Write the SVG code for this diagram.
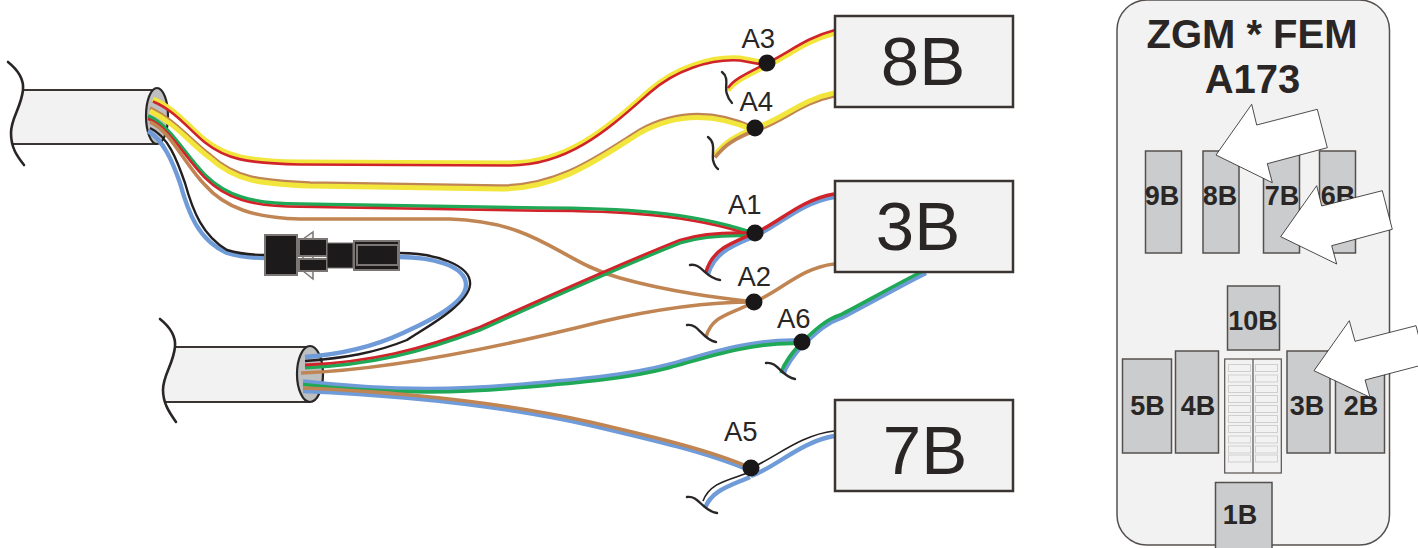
<svg xmlns="http://www.w3.org/2000/svg" width="1418" height="548" viewBox="0 0 1418 548">
<style>
text{font-family:"Liberation Sans",Arial,sans-serif;fill:#2a2625}
.w{fill:none;stroke-linecap:butt;stroke-linejoin:round}
.y{stroke:#f2e63d;stroke-width:5}
.r{stroke:#d1232a;stroke-width:2.6}
.rr{stroke:#d1232a;stroke-width:3.4}
.br{stroke:#c08552;stroke-width:3.6}
.g{stroke:#1fa855;stroke-width:3.6}
.b{stroke:#6f9bd8;stroke-width:4.4}
.k{stroke:#231f20;stroke-width:2.4}
.sq{fill:none;stroke:#2a2625;stroke-width:2.4;stroke-linecap:round}
.cab{fill:#f2f2f2;stroke:none}
.cl{fill:none;stroke:#3a3533;stroke-width:2.2}
.end{fill:#bdbfc1;stroke:#2a2625;stroke-width:2.2}
.box{fill:#f2f2f2;stroke:#3a3533;stroke-width:2.5}
.big{font-size:69px;text-anchor:middle}
.lab{font-size:27.500px}
.dot{fill:#1a1718}
.slot{fill:#cbcccd;stroke:#55504e;stroke-width:1.5}
.sl{font-size:27px;font-weight:bold;text-anchor:middle}
.tt{font-size:40px;font-weight:bold;text-anchor:middle}
.arr{fill:#fff;stroke:#231f20;stroke-width:.8}
.con{fill:#1c1a1a;stroke:#7b7674;stroke-width:2}
.cell{fill:#f2f2f2;stroke:#cfcfcf;stroke-width:1}
</style>
<defs>
<path id="p1" d="M153,99C175,108 190,128 205,140C225,156 245,161 300,162L510,163C570,163 610,125 650,90C675,68 710,56 740,58L767,63"/>
<path id="p2" d="M150,108C175,120 190,140 210,155C235,178 260,181 310,183L500,186C560,186 600,155 640,130C680,108 720,112 755,128"/>
<path id="p3" d="M148,116C170,125 185,155 205,175C225,195 250,204 300,204L540,208C620,208 690,212 750,232"/>
<path id="p6" d="M305,365C370,362 420,350 480,327C540,300 610,268 680,240C700,234 725,232 752,233"/>
<path id="p8" d="M303,383C380,392 450,392 510,387C570,382 625,378 670,366C700,358 750,340 800,342"/>
<path id="p9" d="M303,388C400,392 500,402 590,422C650,436 710,450 751,468"/>
<path id="a3" d="M767,63C790,52 805,38 835,30"/>
<path id="a3t" d="M767,63C750,72 735,78 728,88"/>
<path id="a4" d="M755,128C785,118 800,100 834,93"/>
<path id="a4t" d="M755,128C735,136 725,142 715,155"/>
<path id="a1" d="M755,233C780,222 800,200 834,194"/>
<path id="a1t" d="M755,233C730,243 712,250 706,272"/>
<path id="a6" d="M802,342C815,330 825,320 840,315C860,305 895,285 925,270"/>
<path id="a6t" d="M802,342C795,350 785,360 781,373"/>
</defs>

<g id="cable-1">
<path class="cab" d="M23,90H157V144H13C8,125 20,110 23,90Z"/>
<path class="cl" d="M23,90H157M13,144H157"/>
<path class="sq" style="stroke-width:2.600" d="M8,62C18,70 24,80 23,90C21,108 11,118 11,133C11,148 17,156 24,165"/>
<ellipse class="end" cx="157" cy="116" rx="11" ry="28"/>
</g>

<g id="cable-2">
<path class="cab" d="M175,347H310V402H165C160,385 172,365 175,347Z"/>
<path class="cl" d="M175,347H310M165,402H310"/>
<path class="sq" style="stroke-width:2.600" d="M160,319C170,327 176,337 175,347C173,365 163,375 163,390C163,403 169,412 176,422"/>
<ellipse class="end" cx="310" cy="374" rx="13" ry="28"/>
</g>

<g id="connectors">
<use href="#p1" class="w y"/><use href="#p1" class="w r" y="2.500"/>
<use href="#p2" class="w br"/><use href="#p2" class="w y" y="3"/>
<use href="#p3" class="w g"/><use href="#p3" class="w r" y="2.800"/>
<path class="w br" d="M150,122C170,130 185,165 205,185C225,208 255,218 300,219L450,219C540,222 560,262 620,278C670,292 720,298 754,302"/>
<path class="w b" d="M148,131C163,140 172,160 180,183C188,212 198,240 227,253C240,257 250,258 266,258"/>
<path class="w k" d="M150,128C168,136 177,160 185,183C193,212 203,236 227,250C240,254 250,255 266,255"/>
<path class="w b" d="M399,257C430,257 466,265 466,285C466,305 420,325 403,333C375,346 345,354 305,357"/>
<path class="w k" d="M399,253C435,253 472,265 470,285C468,305 425,328 407,340C375,353 345,358 305,361"/>
<use href="#p6" class="w g" y="2.800"/><use href="#p6" class="w rr" style="stroke-width:2.800"/>
<path class="w br" d="M301,373C380,370 480,352 600,322C660,308 710,302 754,302"/>
<use href="#p8" class="w b" y="-1.500"/><use href="#p8" class="w g" y="1.500"/>
<use href="#p9" class="w b" y="3"/><use href="#p9" class="w br"/>
<use href="#a3" class="w y" y="3"/><use href="#a3" class="w r"/>
<use href="#a3t" class="w y" y="2.500"/><use href="#a3t" class="w r"/>
<use href="#a4" class="w br" y="3"/><use href="#a4" class="w y"/>
<use href="#a4t" class="w y"/><use href="#a4t" class="w br" y="2.500"/>
<use href="#a1" class="w b" y="3"/><use href="#a1" class="w rr"/>
<use href="#a1t" class="w b" x="2" y="2.500"/><use href="#a1t" class="w rr"/>
<path class="w br" d="M754,302C780,292 800,268 834,264"/>
<path class="w br" d="M754,302C730,315 712,315 706,337"/>
<use href="#a6" class="w b" x="1" y="3"/><use href="#a6" class="w g"/>
<use href="#a6t" class="w b" x="2.500" y="1"/><use href="#a6t" class="w g"/>
<path class="w k" style="stroke-width:1.600" d="M751,468C775,458 800,435 834,431"/>
<path class="w b" d="M751,476C775,468 800,442 834,436"/>
<path class="w k" style="stroke-width:1.600" d="M750,472C730,480 710,482 703,501"/>
<path class="w b" d="M750,477C730,486 712,490 705,508"/>
<path class="sq" d="M722,72C730,78 724,88 727,94C728,98 729,100 732,103"/>
<path class="sq" d="M708,137C716,143 712,152 713,160C714,164 715,167 718,169"/>
<path class="sq" d="M690,265C702,263 705,278 720,280"/>
<path class="sq" d="M687,325C699,323 702,340 716,342"/>
<path class="sq" d="M766,363C778,361 781,377 795,379"/>
<path class="sq" d="M687,497C699,495 702,511 717,513"/>
</g>

<g id="plug">
<path class="con" style="fill:#f2f2f2;stroke-width:1.500" d="M303,239L313,232V279L303,271Z"/>
<rect class="con" x="299" y="239" width="28" height="17"/>
<rect class="con" x="299" y="259" width="28" height="12"/>
<rect class="con" x="265" y="235" width="32" height="40"/>
<rect class="con" x="327" y="243" width="26" height="25" style="stroke-width:1"/>
<rect class="con" x="354" y="241" width="45" height="29"/>
<rect class="con" x="357" y="245" width="41" height="20"/>
</g>

<g id="box-8B"><rect class="box" x="835" y="16" width="178" height="91"/><text class="big" x="923" y="85">8B</text></g>
<g id="box-3B"><rect class="box" x="835" y="181" width="178" height="91"/><text class="big" x="918" y="250">3B</text></g>
<g id="box-7B"><rect class="box" x="835" y="400" width="178" height="91"/><text class="big" x="925" y="474">7B</text></g>

<g id="A3"><circle class="dot" cx="767" cy="63" r="8.500"/><text class="lab" x="741.500" y="48">A3</text></g>
<g id="A4"><circle class="dot" cx="755" cy="128" r="8.500"/><text class="lab" x="739.500" y="111">A4</text></g>
<g id="A1"><circle class="dot" cx="755" cy="233" r="8.500"/><text class="lab" x="728" y="214">A1</text></g>
<g id="A2"><circle class="dot" cx="754" cy="302" r="8.500"/><text class="lab" x="737.500" y="286">A2</text></g>
<g id="A6"><circle class="dot" cx="802" cy="342" r="8.500"/><text class="lab" x="777" y="328">A6</text></g>
<g id="A5"><circle class="dot" cx="751" cy="468" r="8.500"/><text class="lab" x="724" y="441">A5</text></g>

<g id="panel">
<rect x="1117" y="0" width="272.500" height="545" rx="30" fill="#f2f2f2" stroke="#55504e" stroke-width="1.500"/>
<text class="tt" x="1252" y="48">ZGM * FEM</text>
<text class="tt" x="1252.500" y="93">A173</text>
</g>
<g id="slot-9B"><rect class="slot" x="1145.500" y="151" width="36" height="102"/><text class="sl" x="1162" y="205">9B</text></g>
<g id="slot-8B"><rect class="slot" x="1203" y="151" width="36" height="102"/><text class="sl" x="1220" y="205">8B</text></g>
<g id="slot-7B"><rect class="slot" x="1263.500" y="151" width="36" height="102"/><text class="sl" x="1282" y="205">7B</text></g>
<g id="slot-6B"><rect class="slot" x="1319.500" y="151" width="36" height="102"/><text class="sl" x="1338" y="205">6B</text></g>
<g id="slot-10B"><rect class="slot" x="1227.500" y="286" width="52" height="64"/><text class="sl" x="1253" y="330">10B</text></g>
<g id="slot-5B"><rect class="slot" x="1122.500" y="359" width="49" height="94"/><text class="sl" x="1147.500" y="415">5B</text></g>
<g id="slot-4B"><rect class="slot" x="1175.500" y="351" width="43" height="102"/><text class="sl" x="1198" y="415">4B</text></g>
<g id="slot-3B"><rect class="slot" x="1287" y="351" width="43" height="102"/><text class="sl" x="1307" y="415">3B</text></g>
<g id="slot-2B"><rect class="slot" x="1335.500" y="359" width="49" height="94"/><text class="sl" x="1361" y="415">2B</text></g>
<g id="slot-1B"><rect class="slot" x="1215.500" y="482.500" width="56.500" height="70"/><text class="sl" x="1240" y="524">1B</text></g>
<g id="fuse-block">
<rect x="1224.700" y="359" width="56.600" height="114" fill="#f2f2f2" stroke="#55504e" stroke-width="1.200"/>
<path d="M1253,359V473" stroke="#55504e" stroke-width="1.200"/>
<g class="cell">
<rect x="1228.500" y="364.500" width="22" height="7"/><rect x="1255.500" y="364.500" width="22" height="7"/>
<rect x="1228.500" y="375" width="22" height="7"/><rect x="1255.500" y="375" width="22" height="7"/>
<rect x="1228.500" y="385.500" width="22" height="7"/><rect x="1255.500" y="385.500" width="22" height="7"/>
<rect x="1228.500" y="395.500" width="22" height="7"/><rect x="1255.500" y="395.500" width="22" height="7"/>
<rect x="1228.500" y="405.500" width="22" height="7"/><rect x="1255.500" y="405.500" width="22" height="7"/>
<rect x="1228.500" y="415.500" width="22" height="7"/><rect x="1255.500" y="415.500" width="22" height="7"/>
<rect x="1228.500" y="425.500" width="22" height="7"/><rect x="1255.500" y="425.500" width="22" height="7"/>
<rect x="1228.500" y="436" width="22" height="7"/><rect x="1255.500" y="436" width="22" height="7"/>
<rect x="1228.500" y="446" width="22" height="7"/><rect x="1255.500" y="446" width="22" height="7"/>
<rect x="1228.500" y="455" width="22" height="7"/><rect x="1255.500" y="455" width="22" height="7"/>
</g>
</g>
<g id="arrows">
<polygon class="arr" points="1251.700,104.300 1256.700,125 1317.300,109.300 1327.300,147.700 1267.300,163.700 1272.300,182.700 1216,155"/>
<polygon class="arr" points="1316.700,185.700 1321.700,206 1382.300,190.700 1392.300,229.300 1331.700,245.700 1336.700,264 1280.700,236.700"/>
<polygon class="arr" points="1349.300,320.700 1355,341.300 1416,325.700 1426,364 1365,380 1370,397.300 1314,370.700"/>
</g>
</svg>
